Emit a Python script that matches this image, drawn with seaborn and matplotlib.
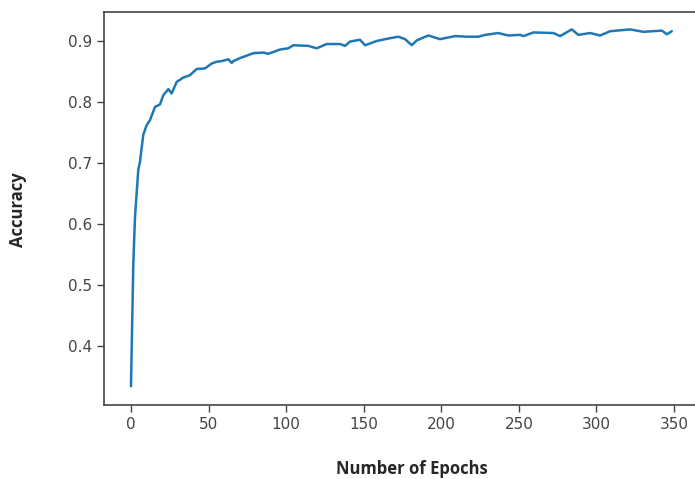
import numpy as np
import pandas as pd
import matplotlib
matplotlib.use('Agg')
import matplotlib.pyplot as plt
import seaborn as sns

# accuracy per epoch
epochs = [0, 1.5, 2.6, 4.7, 5.8, 7.9, 10.1, 12.2, 15.5, 18.7, 20.8, 24.1, 26.2,
          29.5, 33.7, 38, 42.3, 47.7, 52, 55.2, 58.5, 62.8, 64.9, 66, 70.3,
          78.9, 85.3, 88.5, 96.1, 101.4, 104.6, 114.3, 119.7, 126.2, 134.8,
          138, 141.2, 147.6, 150.9, 158.4, 165.9, 172.3, 176.7, 181, 184.2,
          191.7, 199.2, 208.9, 216.4, 223.9, 228.2, 236.8, 243.3, 250.8, 253,
          259.4, 272.3, 276.6, 284.1, 288.4, 296, 302.4, 308.8, 321.7, 330.3,
          342.2, 345.5, 348.6]
accuracy = [0.334, 0.536, 0.612, 0.689, 0.702, 0.746, 0.762, 0.770, 0.792, 0.796,
            0.811, 0.821, 0.814, 0.833, 0.840, 0.844, 0.854, 0.855, 0.863, 0.866,
            0.867, 0.870, 0.864, 0.867, 0.872, 0.880, 0.881, 0.879, 0.886, 0.888,
            0.893, 0.892, 0.888, 0.895, 0.895, 0.892, 0.899, 0.902, 0.893, 0.900,
            0.904, 0.907, 0.903, 0.893, 0.901, 0.909, 0.903, 0.908, 0.907, 0.907,
            0.910, 0.913, 0.909, 0.910, 0.908, 0.914, 0.913, 0.908, 0.919, 0.910,
            0.913, 0.909, 0.916, 0.919, 0.915, 0.917, 0.911, 0.916]

df = pd.DataFrame({'epoch': epochs, 'acc': accuracy})

sns.set_theme(style='ticks')
plt.rcParams['font.family'] = ['DejaVu Sans']

fig = plt.figure(figsize=(6.95, 4.79), dpi=100)
# right spine falls just outside the picture, as in the reference
ax = fig.add_axes([104/695, 1 - 405/479, (698 - 104)/695, (405 - 12)/479])

sns.lineplot(data=df, x='epoch', y='acc', ax=ax, color='#1f77b4', linewidth=1.8)

ax.set_xlim(-17.4, 365.5)
ax.set_ylim(0.3033, 0.9475)
ax.set_xticks([0, 50, 100, 150, 200, 250, 300, 350])
ax.set_yticks([0.4, 0.5, 0.6, 0.7, 0.8, 0.9])
ax.tick_params(labelsize=11, colors='#444444', length=5, width=1)
for s in ax.spines.values():
    s.set_color('#444444')
    s.set_linewidth(1.2)

ax.set_xlabel('Number of Epochs', fontsize=12, fontweight='bold', family='Open Sans')
ax.set_ylabel('Accuracy', fontsize=12, fontweight='bold', family='Open Sans')
ax.xaxis.set_label_coords(0.518, -0.140)
ax.yaxis.set_label_coords(-0.130, 0.496)

fig.savefig('out.png', dpi=100)
